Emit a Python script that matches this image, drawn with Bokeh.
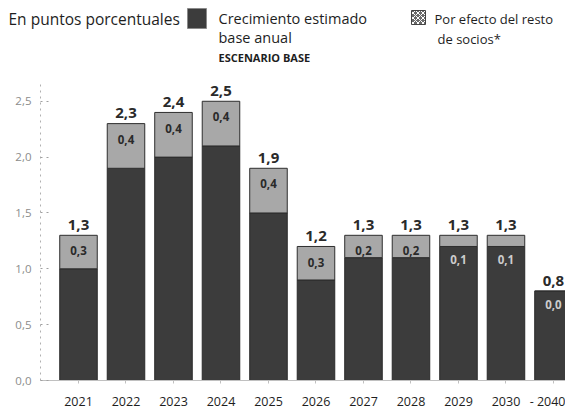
from bokeh.plotting import figure
from bokeh.models import Range1d, FixedTicker, ColumnDataSource
from bokeh.layouts import column
from bokeh.core.properties import value
from bokeh.embed import file_html
from bokeh.resources import INLINE

# ---- data ----
categories = ["2021", "2022", "2023", "2024", "2025", "2026", "2027", "2028", "2029", "2030", "2040"]
tick_labels = ["2021", "2022", "2023", "2024", "2025", "2026", "2027", "2028", "2029", "2030", "- 2040"]
totals = [1.3, 2.3, 2.4, 2.5, 1.9, 1.2, 1.3, 1.3, 1.3, 1.3, 0.8]
base_growth = [1.0, 1.9, 2.0, 2.1, 1.5, 0.9, 1.1, 1.1, 1.2, 1.2, 0.8]
partners_effect = [0.3, 0.4, 0.4, 0.4, 0.4, 0.3, 0.2, 0.2, 0.1, 0.1, 0.0]
y_ticks = [0, 0.5, 1, 1.5, 2, 2.5]
y_tick_labels = ["0,0", "0,5", "1,0", "1,5", "2,0", "2,5"]

FONT = "Open Sans"
DARK = "#3c3c3c"
LIGHT = "#a8a8a8"

def fmt(v):
    return f"{v:.1f}".replace(".", ",")

xs = list(range(len(categories)))
src = ColumnDataSource(dict(
    x=xs,
    base=base_growth,
    total=totals,
    total_lbl=[fmt(v) for v in totals],
    seg_lbl=[fmt(v) for v in partners_effect],
    total_y=[t + 0.05 for t in totals],
    seg_y=[t - 0.14 if s >= 0.2 else b - 0.12 for t, b, s in zip(totals, base_growth, partners_effect)],
    seg_col=["#2a2a2a" if s >= 0.2 else "#cccccc" for s in partners_effect],
))

W = 565
HDR_H = 80
MAIN_H = 332

# ---- header ----
hdr = figure(width=W, height=HDR_H, x_range=Range1d(0, W), y_range=Range1d(HDR_H, 0),
             toolbar_location=None, output_backend="svg", min_border=0,
             x_axis_location=None, y_axis_location=None)
hdr.grid.visible = False
hdr.outline_line_color = None
hdr.frame_align = False

def htext(x, y, t, size="14px", style="normal", color="#1e1e1e"):
    hdr.text(x=[x], y=[y], text=[t], text_font=value(FONT), text_font_size=size,
             text_font_style=style, text_color=color, text_baseline="middle", text_align="left")

htext(8, 18, "En puntos porcentuales", size="15.5px")
hdr.quad(left=[187], right=[206], top=[8], bottom=[28], fill_color=DARK, line_color="#8a8a8a", line_width=1)
htext(218, 18, "Crecimiento estimado", size="14.5px")
htext(218, 37, "base anual", size="14.5px")
htext(218, 57, "ESCENARIO BASE", size="11px", style="bold")
hdr.quad(left=[411], right=[425], top=[10], bottom=[24], fill_color="#6a6a6a", line_color="#444444",
         hatch_pattern="x", hatch_color="#ffffff", hatch_scale=5, hatch_weight=1)
htext(434, 18, "Por efecto del resto", size="13px")
htext(437, 38, "de socios*", size="13px")

# ---- main chart ----
p = figure(width=W, height=MAIN_H, x_range=Range1d(-0.8, 10.253), y_range=Range1d(0, 2.686),
           toolbar_location=None, output_backend="svg",
           min_border_left=40, min_border_right=0, min_border_top=0, min_border_bottom=29)
p.outline_line_color = None
p.grid.visible = False
p.frame_align = False

p.vbar(x="x", width=0.79, bottom=0, top="base", source=src, fill_color=DARK, line_color="#2a2a2a", line_width=1)
p.vbar(x="x", width=0.79, bottom="base", top="total", source=src, fill_color=LIGHT, line_color="#2e2e2e", line_width=1)

p.text(x="x", y="total_y", text="total_lbl", source=src, text_font=value(FONT), text_font_size="15px",
       text_font_style="bold", text_color="#2a2a2a", text_align="center", text_baseline="bottom")
p.text(x="x", y="seg_y", text="seg_lbl", source=src, text_font=value(FONT), text_font_size="11.5px",
       text_font_style="bold", text_color="seg_col", text_align="center", text_baseline="middle")

# y axis
ya = p.yaxis[0]
ya.ticker = FixedTicker(ticks=y_ticks)
ya.major_label_overrides = {t: l for t, l in zip(y_ticks, y_tick_labels)}
ya.axis_line_color = "#b0b0b0"
ya.axis_line_dash = "dotted"
ya.major_tick_in = 9
ya.major_tick_out = 0
ya.major_tick_line_color = "#a0a0a0"
ya.major_tick_line_dash = "dotted"
ya.minor_tick_line_color = None
ya.major_label_standoff = 9
ya.major_label_text_font = FONT
ya.major_label_text_font_size = "11.5px"
ya.major_label_text_color = "#8c8c8c"

# x axis
xa = p.xaxis[0]
xa.ticker = FixedTicker(ticks=xs)
xa.major_label_overrides = {i: l for i, l in zip(xs, tick_labels)}
xa.axis_line_color = "#c0c0c0"
xa.major_tick_in = 0
xa.major_tick_out = 3
xa.major_tick_line_color = "#c0c0c0"
xa.minor_tick_line_color = None
xa.major_label_standoff = 9
xa.major_label_text_font = FONT
xa.major_label_text_font_size = "12.5px"
xa.major_label_text_color = "#1e1e1e"

layout = column(hdr, p, spacing=0)
open("out.html", "w").write(file_html(layout, INLINE))
